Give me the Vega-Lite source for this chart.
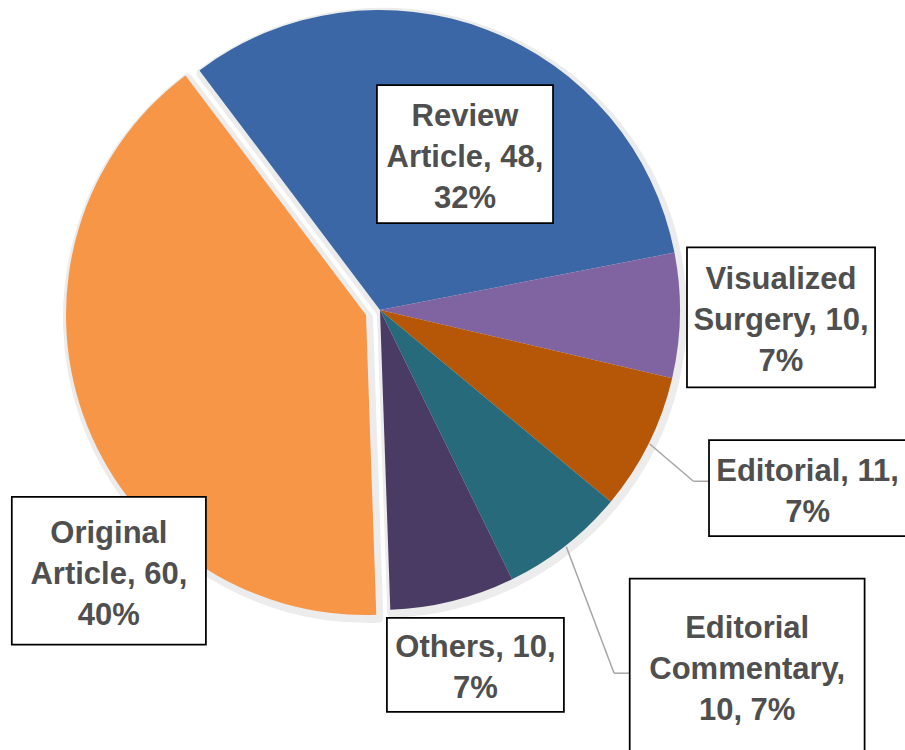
{
  "$schema": "https://vega.github.io/schema/vega-lite/v6.json",
  "width": 760,
  "height": 620,
  "autosize": {"type": "none"},
  "padding": {"left": 0, "top": 0, "right": 145, "bottom": 130},
  "background": "white",
  "config": {"view": {"stroke": null}},
  "data": {
    "values": [
      {"type": "Review Article", "count": 48, "order": 1, "label": "Review\nArticle, 48,\n32%"},
      {"type": "Visualized Surgery", "count": 10, "order": 2, "label": "Visualized\nSurgery, 10,\n7%"},
      {"type": "Editorial", "count": 11, "order": 3, "label": "Editorial, 11,\n7%"},
      {"type": "Editorial Commentary", "count": 10, "order": 4, "label": "Editorial\nCommentary,\n10, 7%"},
      {"type": "Others", "count": 10, "order": 5, "label": "Others, 10,\n7%"},
      {"type": "Original Article", "count": 60, "order": 6, "label": "Original\nArticle, 60,\n40%"}
    ]
  },
  "layer": [
    {
      "mark": {"type": "arc", "outerRadius": 300, "fill": "#ececec", "stroke": "#ececec", "strokeWidth": 10, "strokeJoin": "round", "xOffset": 2, "yOffset": 3},
      "encoding": {
        "theta": {"field": "count", "type": "quantitative", "stack": true, "scale": {"range": [-0.6458, 5.6374]}},
        "order": {"field": "order", "type": "quantitative"},
        "opacity": {"condition": {"test": "datum.order == 6", "value": 0}, "value": 1}
      }
    },
    {
      "mark": {"type": "arc", "outerRadius": 300, "fill": "#ececec", "stroke": "#ececec", "strokeWidth": 10, "strokeJoin": "round", "xOffset": -12, "yOffset": 8},
      "encoding": {
        "theta": {"field": "count", "type": "quantitative", "stack": true, "scale": {"range": [-0.6458, 5.6374]}},
        "order": {"field": "order", "type": "quantitative"},
        "opacity": {"condition": {"test": "datum.order != 6", "value": 0}, "value": 1}
      }
    },
    {
      "mark": {"type": "arc", "outerRadius": 300},
      "encoding": {
        "theta": {"field": "count", "type": "quantitative", "stack": true, "scale": {"range": [-0.6458, 5.6374]}},
        "order": {"field": "order", "type": "quantitative"},
        "color": {
          "field": "type", "type": "nominal", "legend": null,
          "scale": {
            "domain": ["Review Article", "Visualized Surgery", "Editorial", "Editorial Commentary", "Others", "Original Article"],
            "range": ["#3B67A7", "#8064A2", "#B65708", "#276A7C", "#4A3B64", "#F79646"]
          }
        },
        "opacity": {"condition": {"test": "datum.order == 6", "value": 0}, "value": 1}
      }
    },
    {
      "mark": {"type": "arc", "outerRadius": 300, "xOffset": -14, "yOffset": 5},
      "encoding": {
        "theta": {"field": "count", "type": "quantitative", "stack": true, "scale": {"range": [-0.6458, 5.6374]}},
        "order": {"field": "order", "type": "quantitative"},
        "color": {
          "field": "type", "type": "nominal", "legend": null,
          "scale": {
            "domain": ["Review Article", "Visualized Surgery", "Editorial", "Editorial Commentary", "Others", "Original Article"],
            "range": ["#3B67A7", "#8064A2", "#B65708", "#276A7C", "#4A3B64", "#F79646"]
          }
        },
        "opacity": {"condition": {"test": "datum.order != 6", "value": 0}, "value": 1}
      }
    },
    {
      "transform": [
        {"joinaggregate": [{"op": "sum", "field": "count", "as": "total"}]},
        {"window": [{"op": "sum", "field": "count", "as": "cum"}], "sort": [{"field": "order"}], "frame": [null, 0]},
        {"calculate": "datum.order - 1", "as": "i"},
        {"calculate": "(-37 + 360 * (datum.cum - datum.count / 2) / datum.total) * PI / 180", "as": "m"},
        {"calculate": "datum.m + [7.6, 0, -3.8, -7.7, -1.0, -24.4][datum.i] * PI / 180", "as": "a"},
        {"calculate": "[0.592, 1.337, 1.544, 1.704, 1.225, 1.254][datum.i]", "as": "R"},
        {"calculate": "datum.R * sin(datum.a)", "as": "cx"},
        {"calculate": "datum.R * cos(datum.a)", "as": "cy"},
        {"calculate": "[0.587, 0.627, 0.657, 0.783, 0.59, 0.647][datum.i] / 2", "as": "hw"},
        {"calculate": "[0.46, 0.467, 0.32, 0.58, 0.313, 0.493][datum.i] / 2", "as": "hh"},
        {"calculate": "datum.cx - datum.hw", "as": "bx1"},
        {"calculate": "datum.cx + datum.hw", "as": "bx2"},
        {"calculate": "datum.cy - datum.hh", "as": "by1"},
        {"calculate": "datum.cy + datum.hh", "as": "by2"},
        {"calculate": "1.004 * sin(datum.m)", "as": "sx"},
        {"calculate": "1.004 * cos(datum.m)", "as": "sy"},
        {"calculate": "datum.bx1 - 0.052", "as": "kx"},
        {"calculate": "datum.cy + [0, 0, 0.023, -0.025, 0, 0][datum.i]", "as": "ky"},
        {"calculate": "length(split(datum.label, '\\n'))", "as": "nl"},
        {"calculate": "datum.cy + (datum.nl - 1) / 2 * 41 / 300 - 4 / 300", "as": "ty"}
      ],
      "layer": [
        {
          "transform": [{"filter": "datum.order == 3 || datum.order == 4"}],
          "mark": {"type": "rule", "color": "#A6A6A6", "strokeWidth": 1.5},
          "encoding": {
            "x": {"field": "sx", "type": "quantitative", "axis": null, "scale": {"domain": [-1.26667, 1.26667], "nice": false, "zero": false}},
            "y": {"field": "sy", "type": "quantitative", "axis": null, "scale": {"domain": [-1.03333, 1.03333], "nice": false, "zero": false}},
            "x2": {"field": "kx"},
            "y2": {"field": "ky"}
          }
        },
        {
          "transform": [{"filter": "datum.order == 3 || datum.order == 4"}],
          "mark": {"type": "rule", "color": "#A6A6A6", "strokeWidth": 1.5},
          "encoding": {
            "x": {"field": "kx", "type": "quantitative", "axis": null, "scale": {"domain": [-1.26667, 1.26667], "nice": false, "zero": false}},
            "y": {"field": "ky", "type": "quantitative", "axis": null, "scale": {"domain": [-1.03333, 1.03333], "nice": false, "zero": false}},
            "x2": {"field": "bx1"},
            "y2": {"field": "ky"}
          }
        },
        {
          "mark": {"type": "rect", "fill": "white", "stroke": "black", "strokeWidth": 1.75},
          "encoding": {
            "x": {"field": "bx1", "type": "quantitative", "axis": null, "scale": {"domain": [-1.26667, 1.26667], "nice": false, "zero": false}},
            "x2": {"field": "bx2"},
            "y": {"field": "by1", "type": "quantitative", "axis": null, "scale": {"domain": [-1.03333, 1.03333], "nice": false, "zero": false}},
            "y2": {"field": "by2"}
          }
        },
        {
          "mark": {"type": "text", "align": "center", "baseline": "middle", "font": "Liberation Sans", "fontSize": 31, "fontWeight": "bold", "fill": "#4F4F4F", "lineHeight": 41, "lineBreak": "\n"},
          "encoding": {
            "x": {"field": "cx", "type": "quantitative", "axis": null, "scale": {"domain": [-1.26667, 1.26667], "nice": false, "zero": false}},
            "y": {"field": "ty", "type": "quantitative", "axis": null, "scale": {"domain": [-1.03333, 1.03333], "nice": false, "zero": false}},
            "text": {"field": "label"}
          }
        }
      ]
    }
  ]
}
